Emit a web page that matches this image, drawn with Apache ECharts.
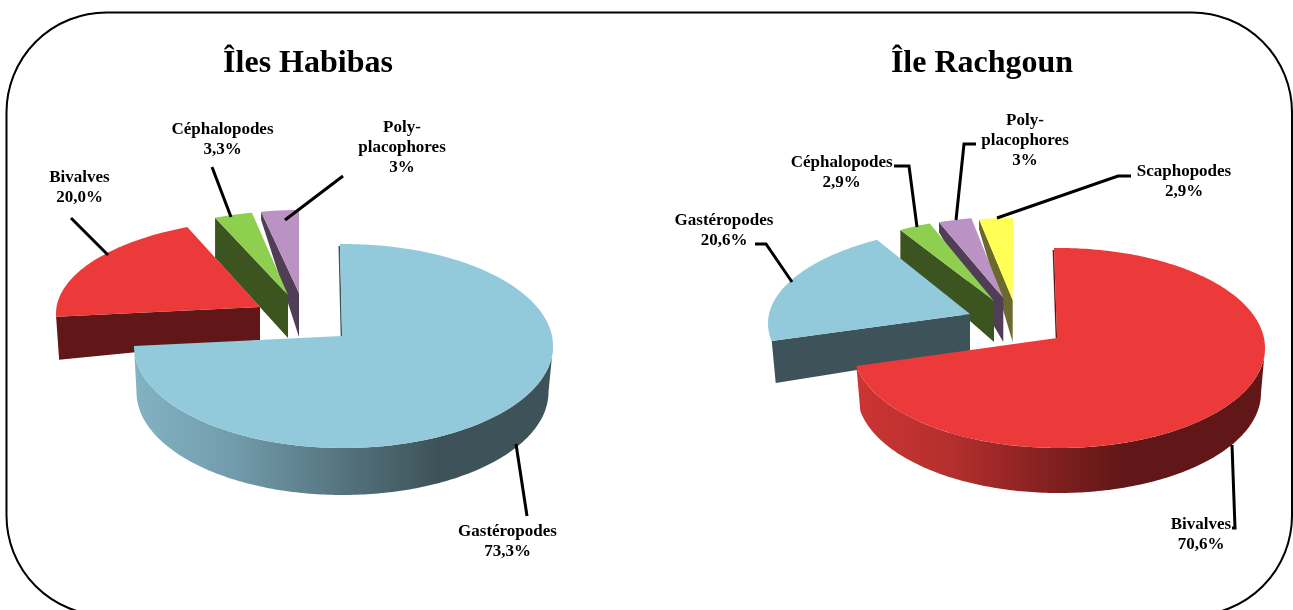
<!DOCTYPE html>
<html><head><meta charset="utf-8">
<script src="https://cdn.jsdelivr.net/npm/echarts@6/dist/echarts.min.js"></script>
<style>html,body{margin:0;padding:0;background:#fff}#c{width:1293px;height:610px}</style>
</head><body><div id="c"></div>
<script>
// ---------- data ----------
const habibasCategories = ['Gastéropodes', 'Bivalves', 'Céphalopodes', 'Poly-\nplacophores'];
const habibasValues = [73.3, 20.0, 3.3, 3.3];
const habibasLabels = ['73,3%', '20,0%', '3,3%', '3%'];
const rachgounCategories = ['Bivalves', 'Gastéropodes', 'Céphalopodes', 'Poly-\nplacophores', 'Scaphopodes'];
const rachgounValues = [70.6, 20.6, 2.9, 2.9, 2.9];
const rachgounLabels = ['70,6%', '20,6%', '2,9%', '3%', '2,9%'];
const chartTitles = ['Îles Habibas', 'Île Rachgoun'];

// ---------- colours ----------
const C = {
  blue: { top: '#92cadb', dark: '#3e5359', ramp: [[0, '#82b2c3'], [0.31, '#739dad'], [0.67, '#567580'], [1, '#3e5359']] },
  red: { top: '#ec3a3a', dark: '#611717', ramp: [[0, '#cb3533'], [0.35, '#b52f2e'], [0.75, '#7f1f1f'], [1, '#611717']] },
  green: { top: '#8ecf4f', dark: '#3c5520' },
  purple: { top: '#bb92c4', dark: '#503e56' },
  yellow: { top: '#ffff55', dark: '#6b6a2c' }
};
const FONT = '"Liberation Serif","Times New Roman",serif';

// ---------- layout of each exploded 3D slice (ellipse of the top face, wedge tip, wall) ----------
const habibasLayout = [
  { col: C.blue, cx: 343.5, cy: 346, rx: 209.5, ry: 102, tip: [342, 336], da: -1, db: 5.9,
    wall: { cx: 342.5, cy: 392, rx: 206, ry: 103, x1: 136, x2: 437 }, rim: 1 },
  { col: C.red, cx: 276, cy: 313.7, rx: 220, ry: 94.7, tip: [260, 307], da: 4, db: 0,
    face: { outerDx: 3, outerDepth: 43, tipDepth: 33 } },
  { col: C.green, cx: 290.5, cy: 291, rx: 187, ry: 80, tip: [288, 295], da: 0, db: 0,
    face: { outerDx: 0, outerDepth: 40, tipDepth: 43 } },
  { col: C.purple, cx: 299, cy: 294, rx: 184, ry: 84, tip: [299, 293], da: 0, db: 0,
    face: { outerDx: 0, outerDepth: 8, tipDepth: 44 } }
];
const rachgounLayout = [
  { col: C.red, cx: 1059, cy: 348, rx: 206, ry: 100, tip: [1057, 338], da: -1.4, db: 5.2,
    wall: { cx: 1059, cy: 393, rx: 202, ry: 100, x1: 857, x2: 1123 }, rim: 1 },
  { col: C.blue, cx: 995, cy: 323.4, rx: 227, ry: 97.9, tip: [970, 314], da: 5.2, db: 0,
    face: { outerDx: 4, outerDepth: 42, tipDepth: 38 } },
  { col: C.green, cx: 994, cy: 300, rx: 180, ry: 82, tip: [994, 301], da: 0, db: 0,
    face: { outerDx: 0, outerDepth: 30, tipDepth: 41 } },
  { col: C.purple, cx: 1005, cy: 298.9, rx: 185, ry: 82, tip: [1003.3, 298], da: 0, db: 0,
    face: { outerDx: 0, outerDepth: 10, tipDepth: 44 } },
  { col: C.yellow, cx: 1013.3, cy: 299.9, rx: 189, ry: 82, tip: [1012.7, 300], da: 0, db: 0,
    face: { outerDx: 0, outerDepth: 10, tipDepth: 42 } }
];
// label centres and leader lines
const habibasNotes = [
  { at: [507.5, 542], line: [[516, 444], [527, 516]] },
  { at: [79.5, 188], line: [[71, 218], [108, 255]] },
  { at: [222.5, 139.5], line: [[212, 167], [231, 217]] },
  { at: [402, 148], line: [[343, 176], [285, 220]] }
];
const rachgounNotes = [
  { at: [1201, 535], line: [[1232, 445], [1235, 528], [1232, 528]] },
  { at: [724, 231], line: [[755, 244], [766, 244], [792, 282]] },
  { at: [841.7, 173], line: [[894, 166], [909, 166], [917, 227]] },
  { at: [1025, 141], line: [[976, 144], [964, 144], [956, 220]] },
  { at: [1184, 182], line: [[1131, 176], [1118, 176], [997, 218]] }
];

const rad = d => d * Math.PI / 180;
const onEllipse = (e, deg) => [e.cx + e.rx * Math.sin(rad(deg)), e.cy - e.ry * Math.cos(rad(deg))];
function arc(e, a, b) {
  const pts = [], n = Math.max(2, Math.ceil(Math.abs(b - a)));
  for (let i = 0; i <= n; i++) pts.push(onEllipse(e, a + (b - a) * i / n));
  return pts;
}

function pieSeries(categories, values, labels, layout, notes) {
  const total = values.reduce((s, v) => s + v, 0);
  const starts = [];
  values.reduce((acc, v, i) => { starts[i] = acc; return acc + v / total * 360; }, 0);
  // small back slices are painted first, the big front slice last
  const order = values.map((_, i) => values.length - 1 - i);
  return {
    type: 'custom',
    coordinateSystem: 'none',
    silent: true,
    animation: false,
    data: order.map(i => ({ name: categories[i].replace('\n', ''), value: [values[i], i] })),
    renderItem(params, api) {
      const i = api.value(1), v = api.value(0), L = layout[i], N = notes[i];
      const a = starts[i] + L.da, b = starts[i] + v / total * 360 + L.db;
      const kids = [];
      if (L.wall) {
        const w = L.wall, lo = Math.max(a, 90), hi = Math.min(b, 270);
        const pts = arc(L, lo, hi).concat(arc(w, hi, lo));
        kids.push({ type: 'polygon', shape: { points: pts }, style: {
          fill: new echarts.graphic.LinearGradient(w.x1, 0, w.x2, 0,
            L.col.ramp.map(s => ({ offset: s[0], color: s[1] })), true) } });
      }
      if (L.face) {
        const p = onEllipse(L, a), f = L.face;
        kids.push({ type: 'polygon', shape: { points: [p, L.tip,
          [L.tip[0], L.tip[1] + f.tipDepth], [p[0] + f.outerDx, p[1] + f.outerDepth]] },
          style: { fill: L.col.dark } });
      }
      if (L.rim) {
        const p = onEllipse(L, a);
        kids.push({ type: 'polyline', shape: { points: [[p[0] - 0.6, p[1] + 2], [L.tip[0] - 0.6, L.tip[1]]] },
          style: { stroke: L.col.dark, lineWidth: 1.5, fill: null } });
      }
      kids.push({ type: 'polygon', shape: { points: [L.tip].concat(arc(L, a, b)) }, style: { fill: L.col.top } });
      kids.push({ type: 'polyline', z2: 50, shape: { points: N.line },
        style: { stroke: '#000', lineWidth: 3, fill: null, lineJoin: 'miter' } });
      kids.push({ type: 'text', z2: 60, x: N.at[0], y: N.at[1], style: {
        text: categories[i] + '\n' + labels[i], align: 'center', verticalAlign: 'middle',
        font: 'bold 17px ' + FONT, lineHeight: 20, fill: '#000' } });
      return { type: 'group', children: kids };
    }
  };
}

const chart = echarts.init(document.getElementById('c'));
chart.setOption({
  animation: false,
  backgroundColor: '#fff',
  title: chartTitles.map((t, i) => ({
    text: t, left: [308, 982][i], top: 45, padding: 0, textAlign: 'center',
    textStyle: { fontFamily: FONT, fontWeight: 'bold', fontSize: 32, color: '#000', lineHeight: 38 }
  })),
  graphic: [{ type: 'rect', silent: true, z: -1,
    shape: { x: 6.5, y: 12.5, width: 1285.5, height: 603, r: 100 },
    style: { fill: 'none', stroke: '#000', lineWidth: 2 } }],
  series: [
    pieSeries(habibasCategories, habibasValues, habibasLabels, habibasLayout, habibasNotes),
    pieSeries(rachgounCategories, rachgounValues, rachgounLabels, rachgounLayout, rachgounNotes)
  ]
});
</script></body></html>
